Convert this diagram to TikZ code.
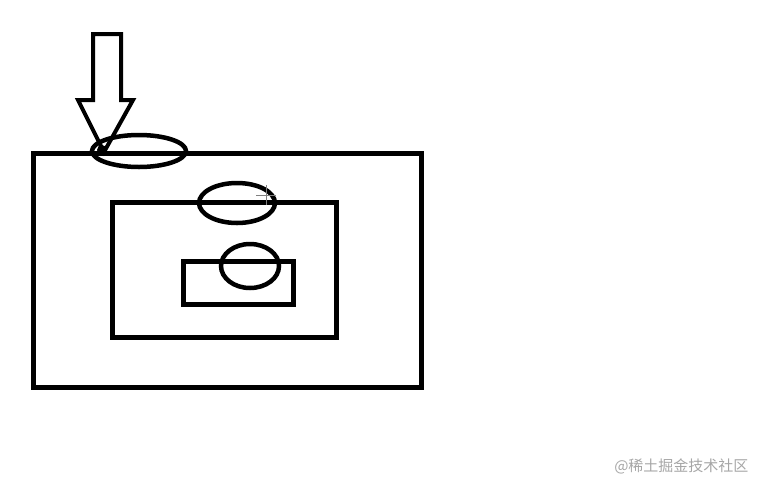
\documentclass[tikz,border=0pt]{standalone}
\usepackage{fontspec}
\newfontfamily\cjk{Noto Sans CJK SC}

\begin{document}
\begin{tikzpicture}[x=1pt, y=-1pt,
    box/.style={draw=black, line width=5pt},
    ring/.style={draw=black, line width=4.5pt},
    pointer/.style={draw=black, line width=4pt, line join=miter}]
    \useasboundingbox (0, 0) rectangle (757, 480);

    \draw[box] (33, 153) rectangle (421, 387);
    \draw[box] (112, 202) rectangle (336, 337);
    \draw[box] (183, 261) rectangle (293, 304);

    \draw[ring] (139, 151) ellipse (47 and 16);
    \draw[ring] (237, 203) ellipse (38 and 20);
    \draw[ring] (250, 266) ellipse (29 and 22);

    \draw[pointer] (93, 34) -- (121, 34) -- (121, 100) -- (133, 100)
        -- (104, 152) -- (78, 100) -- (93, 100) -- cycle;
    \fill[black] (102, 150) circle (5);

    % cursor
    \draw[gray, line width=0.8pt] (256, 195) -- (276, 195) (266, 185) -- (266, 205);

    \node[text=gray!70, font=\cjk\fontsize{15}{15}\selectfont, anchor=east] (wm) at (752, 466) {@稀土掘金技术社区};
\end{tikzpicture}
\end{document}
